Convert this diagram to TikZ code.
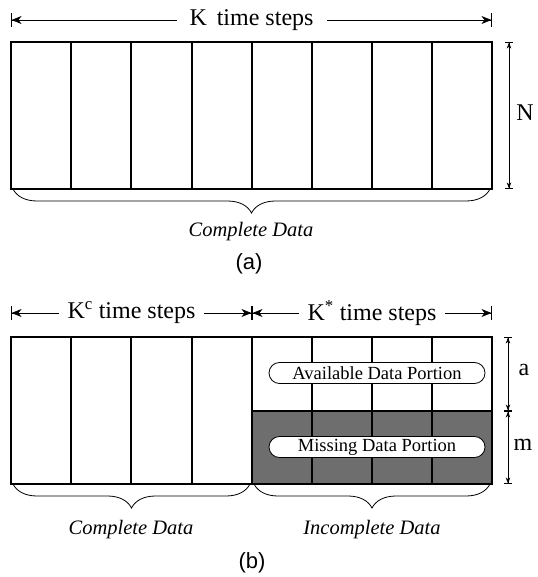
\documentclass[tikz,border=0pt]{standalone}
\usepackage{fontspec}
\setmainfont{Liberation Serif}
\newfontfamily\capfont{Liberation Sans}
\usetikzlibrary{arrows.meta,decorations.pathreplacing,shapes.misc}

\definecolor{missgray}{HTML}{6E6E6E}

\tikzset{
	span/.style={{Bar[width=14pt]Stealth[length=10pt,width=8pt]}-{Stealth[length=10pt,width=8pt]Bar[width=14pt]}, line width=0.6pt},
	dim/.style={{Bar[width=8pt]Stealth[length=6pt,width=4.5pt]}-{Stealth[length=6pt,width=4.5pt]Bar[width=8pt]}, line width=0.6pt},
	head/.style={fill=white, font=\fontsize{24}{28}\selectfont},
	outer/.style={line width=1.8pt},
	inner/.style={line width=1.3pt},
	brace/.style={decorate, decoration={brace, mirror, amplitude=24pt}, line width=0.8pt},
	datalabel/.style={font=\fontsize{20.5}{24}\selectfont\itshape},
	dimlabel/.style={font=\fontsize{24}{28}\selectfont},
	portion/.style={rounded rectangle, draw, line width=0.8pt, fill=white, minimum width=216pt, minimum height=21pt, inner sep=0pt, font=\fontsize{18.5}{20}\selectfont},
	caption/.style={font=\capfont\fontsize{22}{26}\selectfont}
}

\begin{document}
\begin{tikzpicture}[x=1pt,y=-1pt]
	\useasboundingbox (0,0) rectangle (537,577);

	% (a): all K steps observed
	\coordinate (HA-l) at (11,20);
	\coordinate (HA-r) at (492,20);
	\draw[span] (HA-l) -- node[head, inner xsep=13pt] {K\, time steps} (HA-r);

	\draw[inner] (71,42) -- (71,189) (131,42) -- (131,189) (192,42) -- (192,189) (252,42) -- (252,189)
		(312,42) -- (312,189) (372,42) -- (372,189) (432,42) -- (432,189);
	\draw[outer] (11,42) rectangle (492,189);

	\coordinate (N-t) at (509,42);
	\coordinate (N-b) at (509,189);
	\draw[dim] (N-t) -- (N-b);
	\node (N) at (525,113) [dimlabel] {N};

	\draw[brace] (13,189) -- (490,189);
	\node (CA) at (251,232) [datalabel] {Complete Data};
	\node (A) at (249,264) [caption] {(a)};

	% (b): last K* steps partly missing
	\coordinate (HB-l) at (11,313);
	\coordinate (HB-m) at (252,313);
	\coordinate (HB-r) at (492,313);
	\draw[span] (HB-l) -- node[head, inner xsep=9pt] {K\textsuperscript{c} time steps} (HB-m);
	\draw[span] (HB-m) -- node[head, inner xsep=9pt] {K\textsuperscript{*} time steps} (HB-r);

	\fill[missgray] (252,411) rectangle (492,484);
	\draw[inner] (71,337) -- (71,484) (131,337) -- (131,484) (192,337) -- (192,484)
		(312,337) -- (312,484) (372,337) -- (372,484) (432,337) -- (432,484);
	\draw[outer] (252,337) -- (252,484) (252,411) -- (492,411);
	\draw[outer] (11,337) rectangle (492,484);

	\node (avail) at (377,373) [portion] {Available Data Portion};
	\node (miss)  at (377,447) [portion] {Missing Data Portion};

	\coordinate (a-t) at (508,337);
	\coordinate (a-b) at (508,411);
	\coordinate (m-b) at (508,484);
	\draw[dim] (a-t) -- (a-b);
	\draw[dim] (a-b) -- (m-b);
	\node (a) at (524,370) [dimlabel] {a};
	\node (m) at (523,445) [dimlabel] {m};

	\draw[brace] (13,484) -- (250,484);
	\draw[brace] (254,484) -- (490,484);
	\node (CB) at (131,530) [datalabel] {Complete Data};
	\node (IB) at (372,530) [datalabel] {Incomplete Data};
	\node (B) at (252,563) [caption] {(b)};
\end{tikzpicture}
\end{document}
